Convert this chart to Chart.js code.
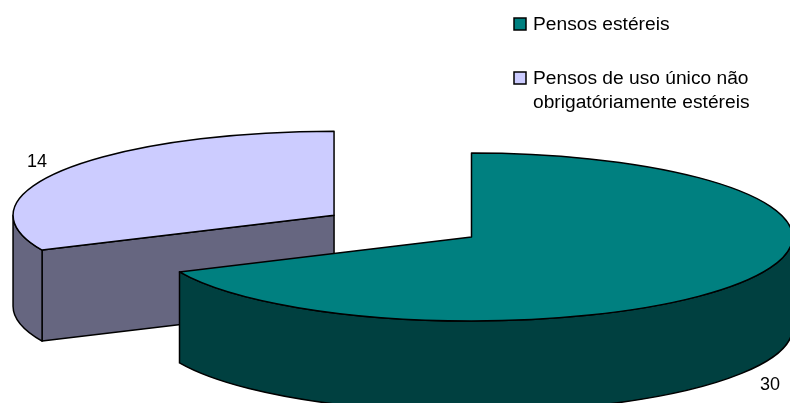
<!DOCTYPE html>
<html><head><meta charset="utf-8">
<style>html,body{margin:0;padding:0;background:#fff}canvas{display:block}</style>
<script src="https://cdn.jsdelivr.net/npm/chart.js@4/dist/chart.umd.min.js"></script>
</head><body><canvas id="c" width="790" height="403"></canvas>
<script>
const categories = ["Pensos estéreis", "Pensos de uso único não obrigatóriamente estéreis"];
const legendLines = [["Pensos estéreis"], ["Pensos de uso único não", "obrigatóriamente estéreis"]];
const values = [30, 14];
const topColors = ["#008080", "#CCCCFF"];
const wallColors = ["#004040", "#666680"];
const explodeX = [0, 0.509], explodeY = [0, 0.48];
const radius = 321, squash = 84 / 321, depth = 91;
const labelPos = [[770, 390], [37, 167]];
const legendPos = [[514, 18, 533, [30]], [514, 72, 533, [84, 108]]];
const legendFont = '19.2px "Liberation Sans", Arial, sans-serif';
const labelFont = '18px "Liberation Sans", Arial, sans-serif';

const pie3d = {
  id: 'pie3d',
  beforeDatasetDraw(chart, args) {
    const ctx = chart.ctx, arcs = chart.getDatasetMeta(args.index).data;
    ctx.save();
    ctx.lineWidth = 1.5; ctx.strokeStyle = '#000'; ctx.lineJoin = 'round';
    for (let i = arcs.length - 1; i >= 0; i--) {
      const arc = arcs[i], a = arc.startAngle, b = arc.endAngle, R = arc.outerRadius;
      const mid = (a + b) / 2;
      const cx = arc.x + Math.cos(mid) * R * explodeX[i];
      const cy = arc.y + Math.sin(mid) * R * explodeY[i] * squash;
      const ry = R * squash;
      const px = t => cx + Math.cos(t) * R, py = t => cy + Math.sin(t) * ry;
      [[a, a - Math.PI / 2], [b, b + Math.PI / 2]].forEach(([t, n]) => {
        if (Math.sin(n) > 1e-6) {
          ctx.beginPath();
          ctx.moveTo(cx, cy); ctx.lineTo(px(t), py(t));
          ctx.lineTo(px(t), py(t) + depth); ctx.lineTo(cx, cy + depth); ctx.closePath();
          ctx.fillStyle = wallColors[i]; ctx.fill(); ctx.stroke();
        }
      });
      const s = Math.max(a, 0), e = Math.min(b, Math.PI);
      if (e > s) {
        ctx.beginPath();
        ctx.ellipse(cx, cy, R, ry, 0, s, e);
        ctx.lineTo(px(e), py(e) + depth);
        ctx.ellipse(cx, cy + depth, R, ry, 0, e, s, true);
        ctx.closePath();
        ctx.fillStyle = wallColors[i]; ctx.fill(); ctx.stroke();
      }
      ctx.save();
      ctx.translate(cx, cy); ctx.scale(1, squash); ctx.translate(-arc.x, -arc.y);
      arc.draw(ctx);
      ctx.restore();
      ctx.beginPath();
      ctx.moveTo(cx, cy);
      ctx.ellipse(cx, cy, R, ry, 0, a, b);
      ctx.closePath();
      ctx.stroke();
    }
    ctx.restore();
    return false;
  },
  afterDraw(chart) {
    const ctx = chart.ctx;
    ctx.save();
    ctx.fillStyle = '#000'; ctx.textBaseline = 'alphabetic';
    ctx.font = labelFont; ctx.textAlign = 'center';
    values.forEach((v, i) => ctx.fillText(String(v), labelPos[i][0], labelPos[i][1]));
    ctx.font = legendFont; ctx.textAlign = 'left';
    categories.forEach((c, i) => {
      const [sx, sy, tx, ys] = legendPos[i];
      ctx.fillStyle = topColors[i]; ctx.strokeStyle = '#000'; ctx.lineWidth = 1.5;
      ctx.fillRect(sx, sy, 12, 12); ctx.strokeRect(sx, sy, 12, 12);
      ctx.fillStyle = '#000';
      legendLines[i].forEach((l, k) => ctx.fillText(l, tx, ys[k]));
    });
    ctx.restore();
  }
};

new Chart(document.getElementById('c'), {
  type: 'pie',
  data: { labels: categories, datasets: [{ data: values, backgroundColor: topColors, borderWidth: 0 }] },
  options: {
    responsive: false, animation: false, radius: radius,
    layout: { padding: { left: 153, top: 71 } },
    plugins: { legend: { display: false }, tooltip: { enabled: false } }
  },
  plugins: [pie3d]
});
</script></body></html>
